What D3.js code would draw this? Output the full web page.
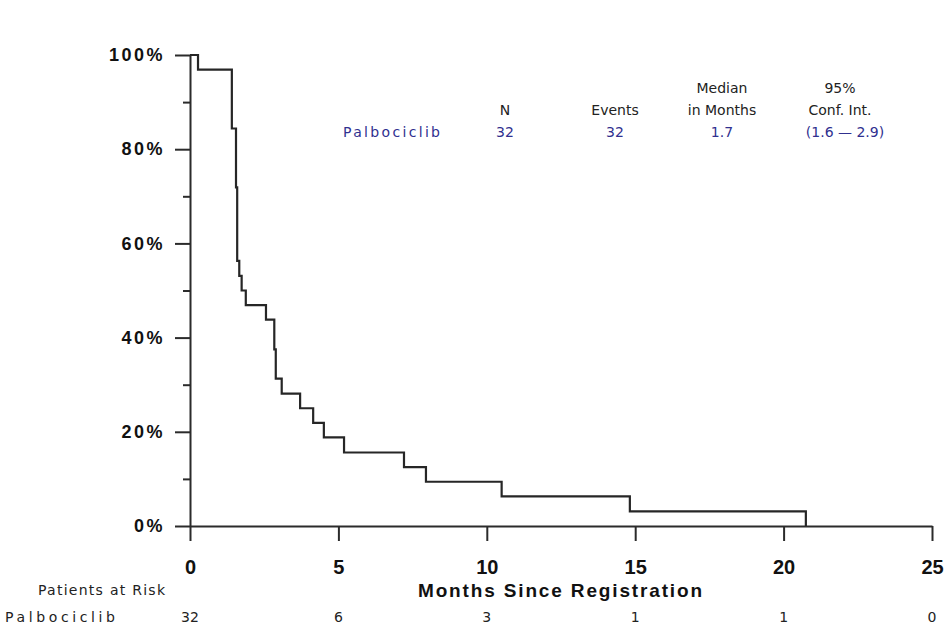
<!DOCTYPE html>
<html>
<head>
<meta charset="utf-8">
<script src="https://cdn.jsdelivr.net/npm/d3@7"></script>
<style>
  body { margin: 0; background: #fff; }
  svg { display: block; }
  .axis path, .axis line { stroke: #2b2b2b; stroke-width: 2px; }
  .axis text { font-family: "Liberation Sans Narrow", "Liberation Sans", Arial, sans-serif; font-weight: bold; fill: #111; }
  .tbl text { font-family: "DejaVu Sans", "Liberation Sans", Arial, sans-serif; font-size: 14px; }
</style>
</head>
<body>
<div id="chart"></div>
<script>
// KM curve (months, % event-free)
const kmTimes = [0, 0.27, 1.41, 1.55, 1.59, 1.66, 1.74, 1.88, 2.56, 2.84, 2.89, 3.09, 3.71, 4.15, 4.51, 5.19, 7.21, 7.95, 10.5, 14.82, 20.75];
const kmSurvival = [100, 96.9, 84.4, 71.9, 56.3, 53.1, 50.0, 46.9, 43.8, 37.5, 31.3, 28.1, 25.0, 21.9, 18.8, 15.6, 12.5, 9.4, 6.3, 3.1, 0];

const xTicks = [0, 5, 10, 15, 20, 25];
const yMajor = [0, 20, 40, 60, 80, 100];
const yMinor = [10, 30, 50, 70, 90];

const groupName = 'Palbociclib';
const riskCounts = [32, 6, 3, 1, 1, 0];

const legendHead1 = ['', '', 'Median', '95%'];
const legendHead2 = ['N', 'Events', 'in Months', 'Conf. Int.'];
const legendValues = ['32', '32', '1.7', '(1.6 \u2014 2.9)'];

const width = 947, height = 627;

const svg = d3.select('#chart')
  .append('svg')
  .attr('width', width)
  .attr('height', height);

const x = d3.scaleLinear().domain([0, 25]).range([190, 932]);
const y = d3.scaleLinear().domain([0, 100]).range([526, 55]);

// y axis, major + minor ticks
svg.append('g')
  .attr('class', 'axis')
  .attr('transform', 'translate(190,0)')
  .call(d3.axisLeft(y).tickValues(yMajor).tickSize(15).tickSizeOuter(0).tickPadding(10).tickFormat(d => d + '%'))
  .selectAll('text')
  .style('font-size', '18px')
  .style('letter-spacing', '2.5px');

svg.append('g')
  .attr('class', 'axis')
  .attr('transform', 'translate(190,0)')
  .call(d3.axisLeft(y).tickValues(yMinor).tickSize(7).tickSizeOuter(0).tickFormat(''))
  .select('.domain').remove();

// x axis
svg.append('g')
  .attr('class', 'axis')
  .attr('transform', 'translate(0,526)')
  .call(d3.axisBottom(x).tickValues(xTicks).tickSize(15).tickSizeOuter(0).tickPadding(19))
  .selectAll('text')
  .style('font-size', '20px');

svg.append('text')
  .attr('x', (x(0) + x(25)) / 2 - 1)
  .attr('y', 597)
  .attr('text-anchor', 'middle')
  .attr('textLength', 284)
  .attr('lengthAdjust', 'spacing')
  .style('font-family', '"Liberation Sans Narrow", "Liberation Sans", Arial, sans-serif')
  .style('font-weight', 'bold')
  .style('font-size', '19px')
  .attr('fill', '#111')
  .text('Months Since Registration');

// curve
const km = kmTimes.map((t, i) => ({ t: t, s: kmSurvival[i] }));
const line = d3.line()
  .x(d => x(d.t))
  .y(d => y(d.s))
  .curve(d3.curveStepAfter);

svg.append('path')
  .datum(km)
  .attr('d', line)
  .attr('fill', 'none')
  .attr('stroke', '#262626')
  .attr('stroke-width', 2.2);

// legend table
const legCols = [505, 615, 722, 840];
const leg = svg.append('g').attr('class', 'tbl');

leg.selectAll('.h1')
  .data(legendHead1)
  .enter().append('text')
  .attr('x', (d, i) => legCols[i])
  .attr('y', 93)
  .attr('text-anchor', 'middle')
  .attr('fill', '#222')
  .text(d => d);

leg.selectAll('.h2')
  .data(legendHead2)
  .enter().append('text')
  .attr('x', (d, i) => legCols[i])
  .attr('y', 115)
  .attr('text-anchor', 'middle')
  .attr('fill', '#222')
  .text(d => d);

leg.append('text')
  .attr('x', 343)
  .attr('y', 137)
  .attr('textLength', 97)
  .attr('lengthAdjust', 'spacing')
  .attr('fill', '#30308f')
  .text(groupName);

leg.selectAll('.v')
  .data(legendValues)
  .enter().append('text')
  .attr('x', (d, i) => legCols[i] + (i === 3 ? 5 : 0))
  .attr('y', 137)
  .attr('text-anchor', 'middle')
  .attr('fill', '#30308f')
  .text(d => d);

// patients at risk
const risk = svg.append('g').attr('class', 'tbl');

risk.append('text')
  .attr('x', 38)
  .attr('y', 595)
  .attr('textLength', 127)
  .attr('lengthAdjust', 'spacing')
  .attr('fill', '#222')
  .text('Patients at Risk');

risk.append('text')
  .attr('x', 5)
  .attr('y', 622)
  .attr('textLength', 110)
  .attr('lengthAdjust', 'spacing')
  .attr('fill', '#222')
  .text(groupName);

risk.selectAll('.n')
  .data(riskCounts)
  .enter().append('text')
  .attr('x', (d, i) => x(xTicks[i]))
  .attr('y', 622)
  .attr('text-anchor', 'middle')
  .attr('fill', '#222')
  .text(d => d);
</script>
</body>
</html>
